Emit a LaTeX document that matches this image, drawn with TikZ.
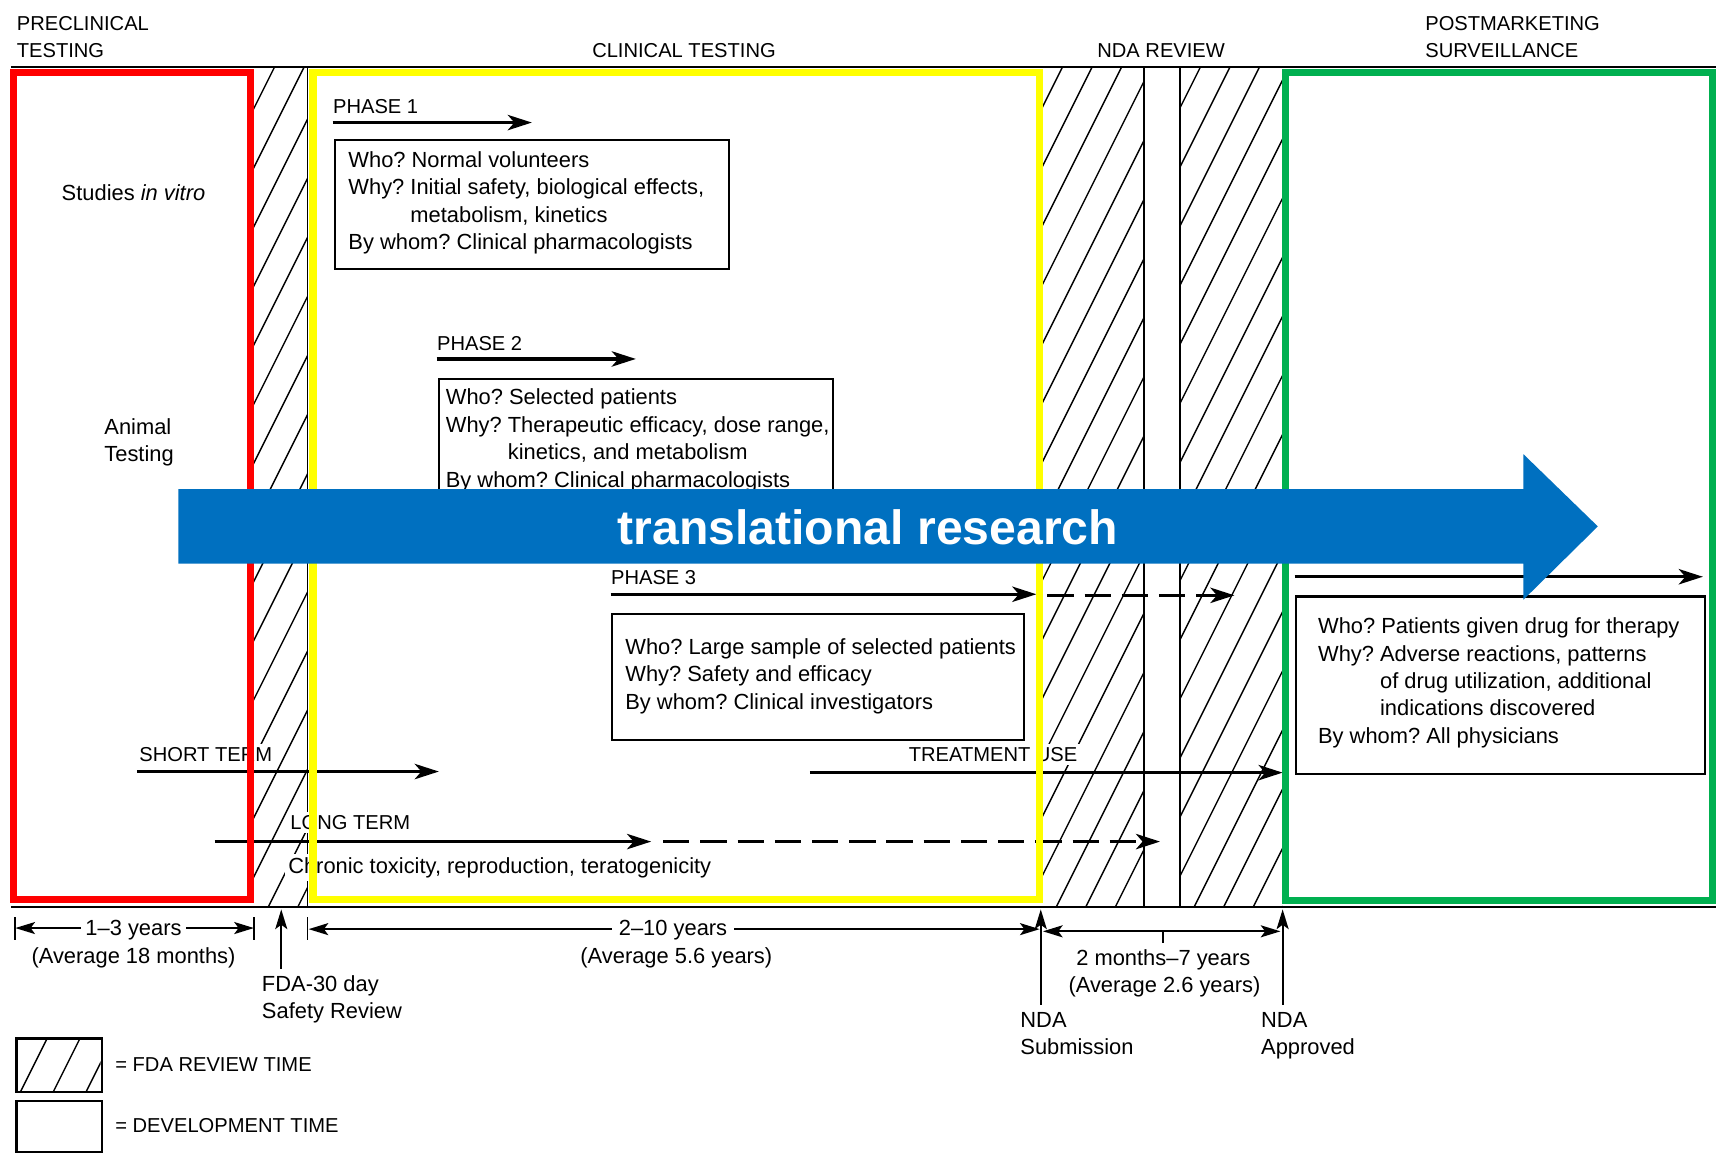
\documentclass[tikz,border=0pt]{standalone}
\usepackage{fontspec}
\setmainfont{Liberation Sans}
\usetikzlibrary{arrows.meta}
\definecolor{tred}{RGB}{255,0,0}
\definecolor{tyellow}{RGB}{255,255,0}
\definecolor{tgreen}{RGB}{0,176,80}
\definecolor{tblue}{RGB}{0,112,192}
\frenchspacing
\begin{document}
\begin{tikzpicture}[x=0.5pt,y=-0.5pt,
  hdr/.style={font=\fontsize{9.2}{12.5}\selectfont, inner sep=0pt, anchor=base west, align=left},
  txt/.style={font=\fontsize{10}{12.5}\selectfont, inner sep=0pt, anchor=base west, align=left},
  mask/.style={fill=white, inner sep=1.5pt},
  pbox/.style={draw, line width=1pt, fill=white, anchor=north west, inner sep=0pt},
  parrow/.style={line width=1.5pt, -{Stealth[length=11pt,width=7pt,inset=3pt]}},
  darrow/.style={line width=1.5pt, dash pattern=on 12pt off 5pt, -{Stealth[length=11pt,width=7pt,inset=3pt]}},
  dimline/.style={line width=0.8pt},
  dimarrow/.style={line width=0.8pt, -{Stealth[length=9pt,width=5.5pt,inset=2pt]}},
  dimboth/.style={line width=0.8pt, {Stealth[length=9pt,width=5.5pt,inset=2pt]}-{Stealth[length=9pt,width=5.5pt,inset=2pt]}},
  hatchline/.style={line width=0.65pt},
  framebox/.style={line width=3.2pt},
]
\useasboundingbox (0,0) rectangle (1568,1053);
\fill[white] (0,0) rectangle (1568,1053);

% ---------- hatching (FDA review time)
\begin{scope}
  \clip (232,61) rectangle (281,829);
  \foreach \c in {-160,-133,...,300} \draw[hatchline] (\c,829) -- ++(384,-768);
\end{scope}
\begin{scope}
  \clip (951,61) rectangle (1045,829);
  \foreach \c in {560,587,...,1070} \draw[hatchline] (\c,829) -- ++(384,-768);
\end{scope}
\begin{scope}
  \clip (1078,61) rectangle (1172,829);
  \foreach \c in {686,713,...,1190} \draw[hatchline] (\c,829) -- ++(384,-768);
\end{scope}

% ---------- chart frame
\draw[line width=0.8pt] (10,61) -- (1568,61);
\draw[line width=0.8pt] (10,829) -- (1568,829);
\draw[line width=0.8pt] (281,61) -- (281,829);
\draw[line width=0.8pt] (1045,61) -- (1045,829);
\draw[line width=0.8pt] (1078,61) -- (1078,829);

% ---------- headers (base anchor = baseline of the last line)
\node[hdr] (hpre) at (15,53) {PRECLINICAL\\TESTING};
\node[hdr, anchor=base] (hclin) at (625,53) {CLINICAL TESTING};
\node[hdr, anchor=base] (hnda) at (1061,53) {NDA REVIEW};
\node[hdr] (hpost) at (1302,53) {POSTMARKETING\\SURVEILLANCE};

% ---------- preclinical
\node[txt, anchor=base] (vitro) at (122,183) {Studies \textit{in vitro}};
\node[txt] (animal) at (95,422) {Animal\\Testing};

% ---------- phase 1
\node[hdr] (p1lbl) at (304,104) {PHASE 1};
\coordinate (p1s) at (304,112);
\coordinate (p1e) at (486,112);
\draw[parrow] (p1s) -- (p1e);
\node[pbox, minimum width=180pt, minimum height=59pt] (p1box) at (305,127) {};
\node[txt] (p1txt) at (318,228) {Who? Normal volunteers\\Why? Initial safety, biological effects,\\\phantom{Why? }metabolism, kinetics\\By whom? Clinical pharmacologists};

% ---------- phase 2
\node[hdr] (p2lbl) at (399,320) {PHASE 2};
\coordinate (p2s) at (399,328);
\coordinate (p2e) at (581,328);
\draw[parrow] (p2s) -- (p2e);
\node[pbox, minimum width=180pt, minimum height=62pt] (p2box) at (400,345) {};
\node[txt] (p2txt) at (407,445) {Who? Selected patients\\Why? Therapeutic efficacy, dose range,\\\phantom{Why? }kinetics, and metabolism\\By whom? Clinical pharmacologists};

% ---------- phase 3
\node[hdr] (p3lbl) at (558,534) {PHASE 3};
\coordinate (p3s) at (558,543);
\coordinate (p3e) at (947,543);
\coordinate (p3ds) at (957,544);
\coordinate (p3de) at (1128,544);
\draw[parrow] (p3s) -- (p3e);
\draw[darrow] (p3ds) -- (p3de);
\node[pbox, minimum width=188.5pt, minimum height=57.5pt] (p3box) at (558,560) {};
\node[txt] (p3txt) at (571,648) {Who? Large sample of selected patients\\Why? Safety and efficacy\\By whom? Clinical investigators};

% ---------- phase 4
\coordinate (p4s) at (1183,527);
\coordinate (p4e) at (1556,527);
\draw[parrow] (p4s) -- (p4e);
\node[pbox, minimum width=187pt, minimum height=81pt] (p4box) at (1183,544) {};
\node[txt] (p4txt) at (1204,679) {Who? Patients given drug for therapy\\Why? Adverse reactions, patterns\\\phantom{Why? }of drug utilization, additional\\\phantom{Why? }indications discovered\\By whom? All physicians};

% ---------- toxicity tests and treatment use
\coordinate (sts) at (125,705);
\coordinate (ste) at (401,705);
\draw[parrow] (sts) -- (ste);
\node[hdr, mask] (stlbl) at (124,696) {SHORT TERM};

\coordinate (tus) at (740,706);
\coordinate (tue) at (1172,706);
\draw[parrow] (tus) -- (tue);
\node[hdr, mask] (tulbl) at (827,696) {TREATMENT USE};

\coordinate (lts) at (196,769);
\coordinate (lte) at (595,769);
\coordinate (ltds) at (606,769);
\coordinate (ltde) at (1060,769);
\draw[parrow] (lts) -- (lte);
\draw[darrow] (ltds) -- (ltde);
\node[hdr, mask] (ltlbl) at (262,758) {LONG TERM};
\node[txt, mask] (chron) at (260,798) {Chronic toxicity, reproduction, teratogenicity};

% ---------- coloured stage frames
\draw[framebox, tred] (12,66) rectangle (229,822);
\draw[framebox, tyellow] (286,66) rectangle (950,822);
\draw[framebox, tgreen] (1175,66) rectangle (1565,823);

% ---------- translational research arrow
\fill[tblue] (163,447) -- (1392,447) -- (1392,415) -- (1460,481) -- (1392,548) -- (1392,515) -- (163,515) -- cycle;
\node[font=\fontsize{22}{26}\selectfont\bfseries, text=white, inner sep=0pt] (trans) at (793,482) {translational research};

% ---------- time scale
\coordinate (d13L) at (14,848);
\coordinate (d13R) at (232,848);
\draw[dimline] (14,838) -- (14,859);
\draw[dimline] (232,838) -- (232,859);
\node[txt, anchor=base, inner xsep=2pt, inner ysep=0pt] (y13) at (122,855) {1–3 years};
\draw[dimarrow] (y13.west |- d13L) -- (d13L);
\draw[dimarrow] (y13.east |- d13R) -- (d13R);
\node[txt, anchor=base] (avg18) at (122,880) {(Average 18 months)};

\coordinate (fdab) at (257,885);
\coordinate (fdat) at (257,831);
\draw[dimarrow] (fdab) -- (fdat);
\node[txt] (fda) at (239,931) {FDA-30 day\\Safety Review};

\coordinate (d210L) at (282,849);
\coordinate (d210R) at (950,849);
\draw[dimline] (281,838) -- (281,859);
\node[txt, anchor=base, inner xsep=3pt, inner ysep=0pt] (y210) at (615,855) {2–10 years};
\draw[dimarrow] (y210.west |- d210L) -- (d210L);
\draw[dimarrow] (y210.east |- d210R) -- (d210R);
\node[txt, anchor=base] (avg56) at (618,880) {(Average 5.6 years)};

\coordinate (nsb) at (951,918);
\coordinate (nst) at (951,831);
\draw[dimarrow] (nsb) -- (nst);
\coordinate (nab) at (1172,918);
\coordinate (nat) at (1172,831);
\draw[dimarrow] (nab) -- (nat);
\coordinate (d27L) at (953,851);
\coordinate (d27R) at (1170,851);
\draw[dimboth] (d27L) -- (d27R);
\draw[dimline] (1063,851) -- (1063,862);
\node[txt, anchor=base] (y27) at (1063,882) {2 months–7 years};
\node[txt, anchor=base] (avg26) at (1064,907) {(Average 2.6 years)};
\node[txt] (ndasub) at (932,964) {NDA\\Submission};
\node[txt] (ndaapp) at (1152,964) {NDA\\Approved};

% ---------- legend
\begin{scope}
  \clip (14,948) rectangle (92,997);
  \foreach \c in {19,49,79} \draw[hatchline] (\c,997) -- ++(24.5,-49);
\end{scope}
\node[pbox, fill=none, minimum width=39pt, minimum height=24.5pt] (leghatch) at (14,948) {};
\node[hdr] (legfda) at (105,979) {= FDA REVIEW TIME};
\node[pbox, minimum width=39pt, minimum height=23.5pt] (legblank) at (14,1005) {};
\node[hdr] (legdev) at (105,1035) {= DEVELOPMENT TIME};
\end{tikzpicture}
\end{document}
